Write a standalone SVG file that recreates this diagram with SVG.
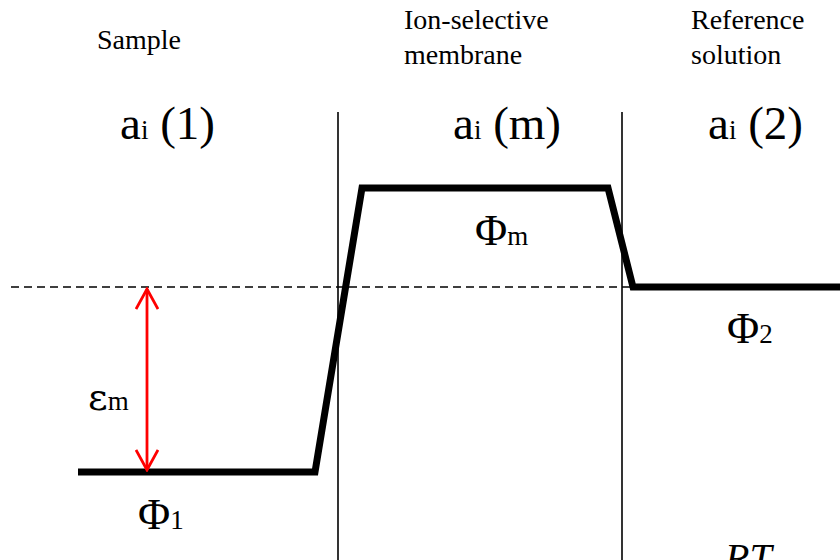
<svg xmlns="http://www.w3.org/2000/svg" width="840" height="560" viewBox="0 0 840 560">
<style>
text{font-family:"Liberation Serif","Times New Roman",serif;fill:#000}
.lab{font-size:28px}
.big{font-size:47px}
.sub{font-size:27px}
.phi{font-size:44px}
.wall{stroke:#000;stroke-width:1.6;fill:none}
</style>
<defs>
<marker id="ah" viewBox="0 0 24 24" refX="22" refY="12" markerWidth="24" markerHeight="24" markerUnits="userSpaceOnUse" orient="auto-start-reverse">
<path d="M2,1 L22,12 L2,23" fill="none" stroke="#f00" stroke-width="2.8"/>
</marker>
</defs>
<rect width="840" height="560" fill="#fff"/>
<g id="labels">
<text class="lab" x="97" y="49">Sample</text>
<text class="lab" x="404" y="29">Ion-selective</text>
<text class="lab" x="404" y="64">membrane</text>
<text class="lab" x="691" y="29">Reference</text>
<text class="lab" x="691" y="64">solution</text>
</g>
<g id="activities">
<text x="120" y="139"><tspan class="big">a</tspan><tspan class="sub">i</tspan><tspan class="big"> (1)</tspan></text>
<text x="453" y="139"><tspan class="big">a</tspan><tspan class="sub">i</tspan><tspan class="big"> (m)</tspan></text>
<text x="708" y="139"><tspan class="big">a</tspan><tspan class="sub">i</tspan><tspan class="big"> (2)</tspan></text>
</g>
<g id="walls">
<line class="wall" x1="338" y1="112" x2="338" y2="560"/>
<line class="wall" x1="622" y1="112" x2="622" y2="560"/>
</g>
<g id="connectors">
<line x1="11" y1="287" x2="840" y2="287" stroke="#000" stroke-width="1.6" stroke-dasharray="8,5"/>
<polyline points="78,472 315,472 362,188 608,188 633,287 840,287" fill="none" stroke="#000" stroke-width="7" stroke-linejoin="miter"/>
<line x1="147" y1="289" x2="147" y2="470" stroke="#f00" stroke-width="2.8" marker-start="url(#ah)" marker-end="url(#ah)"/>
</g>
<g id="potentials">
<text x="475" y="245"><tspan class="phi">Φ</tspan><tspan class="sub">m</tspan></text>
<text x="727" y="343"><tspan class="phi">Φ</tspan><tspan class="sub">2</tspan></text>
<text x="138" y="529"><tspan class="phi">Φ</tspan><tspan class="sub">1</tspan></text>
<text x="88" y="410"><tspan style="font-size:38px;font-family:'DejaVu Serif',serif">ɛ</tspan><tspan class="sub">m</tspan></text>
</g>
<g id="formula">
<text x="725" y="571" style="font-size:40px;font-style:italic">RT</text>
</g>
</svg>
